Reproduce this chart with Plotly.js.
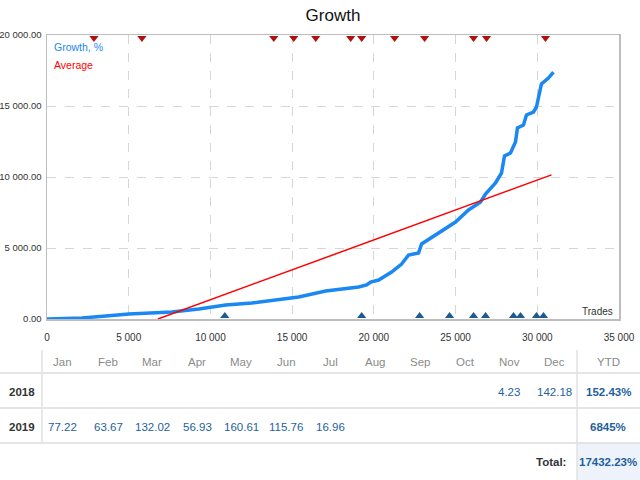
<!DOCTYPE html>
<html><head><meta charset="utf-8">
<script src="https://cdn.plot.ly/plotly-3.0.1.min.js"></script>
<style>html,body{margin:0;padding:0;background:#fff}#c{width:640px;height:480px}</style>
</head><body><div id="c"></div>
<script>
// Growth curve (trades, growth %)
const growthX = [0,2139,3606,5012,7640,9290,10940,12530,15402,17052,19070,19558,19803,20292,21086,21698,22125,22737,22920,23959,24998,25793,26526,26832,27443,27810,27993,28360,28665,28787,29154,29338,29766,29949,30132,30254,30682,30988];
const growthY = [0,70,211,352,493,704,986,1127,1549,1972,2253,2394,2606,2746,3310,3873,4507,4648,5282,6056,6831,7676,8239,8803,9577,10281,11478,11690,12464,13450,13661,14366,14577,14929,15915,16549,16971,17394];
// Average line
const avgX = [6785, 30870];
const avgY = [0, 10150];
// Event markers
const topMarkX = [2873,5807,13875,15098,16443,18582,19254,21271,23105,26100,26895,30501];
const botMarkX = [10880,19254,22800,24633,26100,26834,28545,28973,29951,30379];
// Table data
const months = ["Jan","Feb","Mar","Apr","May","Jun","Jul","Aug","Sep","Oct","Nov","Dec"];
const years = ["2018","2019"];
const vals2018 = ["","","","","","","","","","","4.23","142.18"];
const vals2019 = ["77.22","63.67","132.02","56.93","160.61","115.76","16.96","","","","",""];
const ytd = ["152.43%","6845%"];
const totalLabel = "Total:";
const totalValue = "17432.23%";

const FONT = "Liberation Sans, Arial, sans-serif";
const L=47, R=619, T=35, B=319;
const px = x => (x-L)/(R-L);
const py = y => (B-y)/(B-T);
const yMax = 20000, yMin = 0;
const mkOff = (yMax-yMin)*0.011;

const traces = [
  {x: growthX, y: growthY, mode:'lines', line:{color:'#1a88f2', width:3.5}, hoverinfo:'skip'},
  {x: avgX, y: avgY, mode:'lines', line:{color:'#ff0000', width:1.5}, hoverinfo:'skip'},
  {x: topMarkX, y: topMarkX.map(()=>yMax-mkOff), mode:'markers', marker:{symbol:'triangle-down', size:8, color:'#b01010'}, cliponaxis:false},
  {x: botMarkX, y: botMarkX.map(()=>yMin+mkOff), mode:'markers', marker:{symbol:'triangle-up', size:8, color:'#1d5a92'}, cliponaxis:false}
];

function note(text, x, y, size, color, xa){
  return {text:text, xref:'paper', yref:'paper', x:px(x), y:py(y), xanchor:xa||'center', yanchor:'middle', showarrow:false, font:{family:FONT, size:size, color:color}};
}
const ann = [];
const shapes = [];
ann.push(note('Growth, %', 52, 47, 10.5, '#1a88f2', 'left'));
ann.push(note('Average', 52, 65, 10.5, '#ff0000', 'left'));
ann.push(note('Trades', 615, 311, 10, '#333', 'right'));

// table
const colX = [62,108,152,197,241,286,330,375,420,465,509,554];
const ytdX = 608, yearX = 22;
const rowY = [362, 392, 427, 462];
const TS = 11.5;
months.forEach((m,i)=>ann.push(note(m, colX[i], rowY[0], TS, '#8a8a8a')));
ann.push(note('YTD', ytdX, rowY[0], TS, '#8a8a8a'));
[vals2018, vals2019].forEach((row,r)=>{
  ann.push(note('<b>'+years[r]+'</b>', yearX, rowY[r+1], TS, '#333'));
  row.forEach((v,i)=>{ if(v) ann.push(note(v, colX[i], rowY[r+1], TS, '#1f5f9e')); });
  ann.push(note('<b>'+ytd[r]+'</b>', ytdX, rowY[r+1], TS, '#1f5f9e'));
});
ann.push(note('<b>'+totalLabel+'</b>', 568, rowY[3], TS, '#333', 'right'));
ann.push(note('<b>'+totalValue+'</b>', ytdX, rowY[3], TS, '#1f5f9e'));

shapes.push({type:'rect', xref:'paper', yref:'paper', x0:px(577), x1:px(640), y0:py(443), y1:py(480), fillcolor:'#eef3fb', line:{width:0}, layer:'below'});
[373,408,443].forEach(y=>shapes.push({type:'line', xref:'paper', yref:'paper', x0:px(0), x1:px(640), y0:py(y), y1:py(y), line:{color:'#dcdcdc', width:1.5}}));
shapes.push({type:'line', xref:'paper', yref:'paper', x0:px(42), x1:px(42), y0:py(350), y1:py(443), line:{color:'#e2e2e2', width:1.5}});
shapes.push({type:'line', xref:'paper', yref:'paper', x0:px(577), x1:px(577), y0:py(350), y1:py(480), line:{color:'#e2e2e2', width:1.5}});

const layout = {
  width:640, height:480,
  margin:{l:L, r:640-R, t:T, b:480-B},
  paper_bgcolor:'#fff', plot_bgcolor:'#fff',
  showlegend:false,
  separators:'. ',
  title:{text:'Growth', x:0.5, xref:'paper', y:1-15/480, yanchor:'middle', font:{family:FONT, size:17, color:'#111'}},
  xaxis:{range:[0,35000], dtick:5000, tick0:0, tickformat:',d', showgrid:true, gridcolor:'#d6d6d6', griddash:'dash', gridwidth:1,
         showline:true, mirror:true, linecolor:'#bdbdbd', linewidth:1.5, zeroline:false, ticks:'', ticklabelstandoff:8, tickfont:{family:FONT, size:10, color:'#333'}, fixedrange:true},
  yaxis:{range:[yMin,yMax], dtick:5000, tick0:0, tickformat:',.2f', showgrid:true, gridcolor:'#d6d6d6', griddash:'dash', gridwidth:1,
         showline:true, mirror:true, linecolor:'#bdbdbd', linewidth:1.5, zeroline:false, ticks:'', ticklabelstandoff:2, tickfont:{family:FONT, size:9.5, color:'#333'}, fixedrange:true},
  annotations: ann,
  shapes: shapes
};
Plotly.newPlot('c', traces, layout, {displayModeBar:false, staticPlot:true});
</script></body></html>
